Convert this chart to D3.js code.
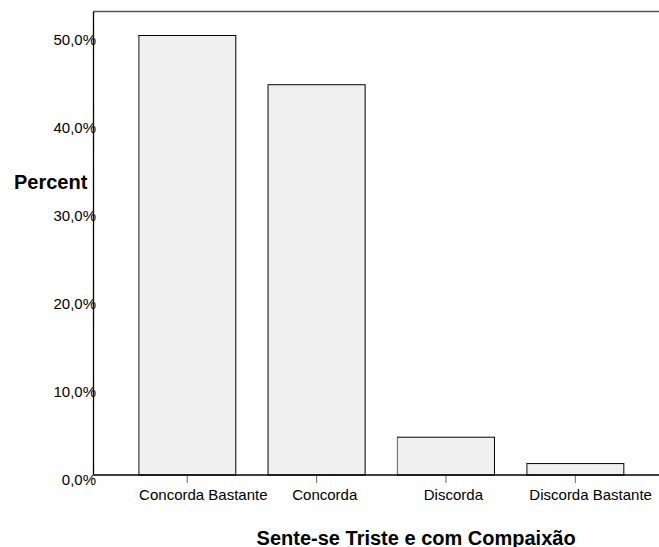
<!DOCTYPE html>
<html>
<head>
<meta charset="utf-8">
<script src="https://cdn.jsdelivr.net/npm/d3@7"></script>
<style>
  body { margin: 0; background: #fff; }
  text { font-family: Arial, "Liberation Sans", sans-serif; fill: #000; }
</style>
</head>
<body>
<svg id="chart"></svg>
<script>
const categories = ["Concorda Bastante", "Concorda", "Discorda", "Discorda Bastante"];
const percents = [50.0, 44.4, 4.3, 1.3];
const yTicks = [0, 10, 20, 30, 40, 50];
const yTitle = "Percent";
const xTitle = "Sente-se Triste e com Compaixão";

const W = 659, H = 547;
const plot = { left: 93.5, right: 659, top: 11.5, bottom: 475 };

const svg = d3.select("#chart")
    .attr("width", W)
    .attr("height", H);

const x = d3.scaleBand()
    .domain(categories)
    .range([122.6, 640])
    .paddingInner(0.25)
    .paddingOuter(0.125);

const y = d3.scaleLinear()
    .domain([0, 50])
    .range([plot.bottom, plot.bottom - 5 * 87.9]);

// plot frame (left and top)
svg.append("line")
    .attr("x1", plot.left).attr("x2", plot.right)
    .attr("y1", plot.top).attr("y2", plot.top)
    .attr("stroke", "#555").attr("stroke-width", 1.3);
svg.append("line")
    .attr("x1", plot.left).attr("x2", plot.left)
    .attr("y1", plot.top).attr("y2", plot.bottom)
    .attr("stroke", "#000").attr("stroke-width", 1.3);

// bars
const bars = svg.append("g");
bars.selectAll("rect")
    .data(categories)
    .join("rect")
    .attr("x", d => x(d))
    .attr("y", (d, i) => y(percents[i]))
    .attr("width", x.bandwidth())
    .attr("height", (d, i) => plot.bottom - y(percents[i]))
    .attr("fill", "#f0f0f0")
    .attr("stroke", "#000")
    .attr("stroke-width", 1);
// grey left edge of each bar
bars.selectAll("line")
    .data(categories)
    .join("line")
    .attr("x1", d => x(d)).attr("x2", d => x(d))
    .attr("y1", (d, i) => y(percents[i]) + 0.5)
    .attr("y2", plot.bottom)
    .attr("stroke", "#777")
    .attr("stroke-width", 1.2);

// x axis
const xAxis = svg.append("g")
    .attr("transform", `translate(0,${plot.bottom})`)
    .call(d3.axisBottom(x).tickSize(8).tickSizeOuter(0));
xAxis.select(".domain").remove();
xAxis.selectAll(".tick line").attr("stroke", "#666");
xAxis.append("line")
    .attr("x1", plot.left).attr("x2", plot.right)
    .attr("stroke", "#000").attr("stroke-width", 1.3);
xAxis.selectAll(".tick text")
    .attr("font-size", 15)
    .attr("y", 24.5)
    .attr("dy", 0)
    .attr("fill", "#000")
    .attr("text-anchor", "start")
    .attr("x", function() { return -0.375 * this.getComputedTextLength(); });

// y axis labels
const yAxis = svg.append("g")
    .attr("transform", `translate(${plot.left},0)`)
    .call(d3.axisLeft(y).tickValues(yTicks).tickSize(0)
        .tickFormat(d => d3.format(".1f")(d).replace(".", ",") + "%"));
yAxis.select(".domain").remove();
yAxis.selectAll(".tick text")
    .attr("font-size", 15)
    .attr("x", 2.5)
    .attr("dy", "0.32em")
    .attr("y", 4.5)
    .attr("fill", "#000");

// titles
svg.append("text")
    .attr("x", 14)
    .attr("y", 188.5)
    .attr("font-size", 20)
    .attr("font-weight", "bold")
    .text(yTitle);

const xt = svg.append("text")
    .attr("y", 544.5)
    .attr("font-size", 20)
    .attr("font-weight", "bold")
    .text(xTitle);
xt.attr("x", (plot.left + plot.right) / 2 - 0.375 * xt.node().getComputedTextLength());
</script>
</body>
</html>
